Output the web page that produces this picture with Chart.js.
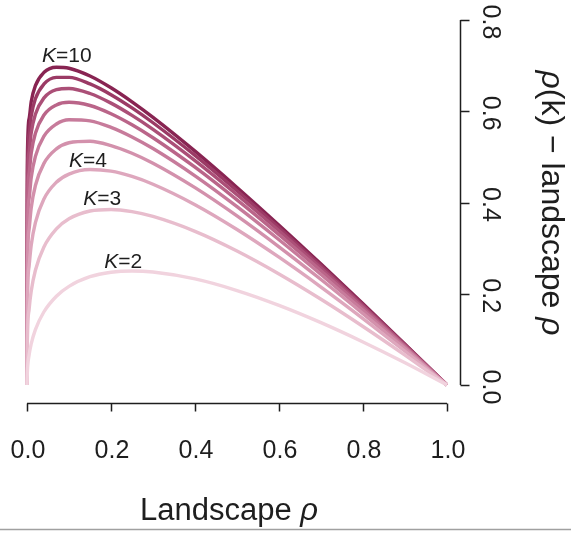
<!DOCTYPE html>
<html>
<head>
<meta charset="utf-8">
<script src="https://cdn.jsdelivr.net/npm/chart.js@4"></script>
<style>
  html, body { margin: 0; padding: 0; background: #ffffff; }
  #wrap { width: 571px; height: 534px; position: relative; }
</style>
</head>
<body>
<div id="wrap"><canvas id="c"></canvas></div>
<script>
// Landscape rho (x) grid
const rhoGrid = [0, 0.001, 0.005, 0.01, 0.02, 0.04, 0.07, 0.1, 0.15, 0.2, 0.25, 0.3, 0.4, 0.5, 0.6, 0.7, 0.8, 0.9, 1.0];
// rho(k) - landscape rho, one array per K
const k2  = [0, 0.0306, 0.0657, 0.0900, 0.1214, 0.1600, 0.1946, 0.2162, 0.2373, 0.2472, 0.2500, 0.2477, 0.2325, 0.2071, 0.1746, 0.1367, 0.0944, 0.0487, 0];
const k3  = [0, 0.0990, 0.1660, 0.2054, 0.2514, 0.3020, 0.3421, 0.3642, 0.3813, 0.3848, 0.3800, 0.3694, 0.3368, 0.2937, 0.2434, 0.1879, 0.1283, 0.0655, 0];
const k4  = [0, 0.1768, 0.2609, 0.3062, 0.3561, 0.4072, 0.4444, 0.4623, 0.4723, 0.4687, 0.4571, 0.4401, 0.3953, 0.3409, 0.2801, 0.2147, 0.1457, 0.0740, 0];
const k5  = [0, 0.2502, 0.3416, 0.3881, 0.4373, 0.4853, 0.5175, 0.5310, 0.5343, 0.5248, 0.5079, 0.4860, 0.4325, 0.3706, 0.3029, 0.2312, 0.1564, 0.0791, 0];
const k6  = [0, 0.3152, 0.4085, 0.4542, 0.5010, 0.5448, 0.5720, 0.5813, 0.5789, 0.5647, 0.5437, 0.5182, 0.4584, 0.3909, 0.3184, 0.2423, 0.1635, 0.0826, 0];
const k7  = [0, 0.3718, 0.4641, 0.5079, 0.5519, 0.5914, 0.6139, 0.6197, 0.6126, 0.5946, 0.5704, 0.5420, 0.4773, 0.4057, 0.3296, 0.2503, 0.1686, 0.0851, 0];
const k8  = [0, 0.4207, 0.5107, 0.5523, 0.5932, 0.6287, 0.6472, 0.6499, 0.6389, 0.6178, 0.5909, 0.5603, 0.4918, 0.4170, 0.3381, 0.2564, 0.1725, 0.0869, 0];
const k9  = [0, 0.4632, 0.5501, 0.5895, 0.6275, 0.6593, 0.6742, 0.6743, 0.6599, 0.6363, 0.6073, 0.5748, 0.5032, 0.4259, 0.3448, 0.2611, 0.1755, 0.0884, 0];
const k10 = [0, 0.5002, 0.5837, 0.6210, 0.6562, 0.6848, 0.6965, 0.6943, 0.6772, 0.6514, 0.6206, 0.5866, 0.5125, 0.4330, 0.3502, 0.2650, 0.1779, 0.0895, 0];

const seriesK = [2, 3, 4, 5, 6, 7, 8, 9, 10];
const seriesValues = [k2, k3, k4, k5, k6, k7, k8, k9, k10];
const seriesColors = ['#f1d3de', '#e8bdcd', '#dea7bd', '#d391ac', '#c77b9b', '#ba6589', '#ab4f77', '#9b3a65', '#882452'];

const xTicks = [0, 0.2, 0.4, 0.6, 0.8, 1.0];
const xTickLabels = ['0.0', '0.2', '0.4', '0.6', '0.8', '1.0'];
const yTicks = [0, 0.2, 0.4, 0.6, 0.8];
const yTickLabels = ['0.0', '0.2', '0.4', '0.6', '0.8'];

// curve labels: text K, and anchor in data units
const curveLabelK = ['10', '4', '3', '2'];
const curveLabelX = [0.095, 0.145, 0.179, 0.229];
const curveLabelY = [0.721, 0.491, 0.408, 0.270];

const datasets = seriesValues.map((vals, i) => ({
  label: 'K=' + seriesK[i],
  data: rhoGrid.map((r, j) => ({ x: r, y: vals[j] })),
  borderColor: seriesColors[i],
  borderWidth: 3.4,
  pointRadius: 0,
  fill: false,
  cubicInterpolationMode: 'monotone',
  clip: false
}));

const FONT = '"Liberation Sans", Arial, Helvetica, sans-serif';
const INK = '#1e1e1e';

function drawMixed(ctx, parts, size, cx, cy) {
  let total = 0;
  const widths = parts.map(p => {
    ctx.font = (p.it ? 'italic ' : '') + size + 'px ' + FONT;
    const w = ctx.measureText(p.t).width;
    total += w;
    return w;
  });
  let x = cx - total / 2;
  ctx.textAlign = 'left';
  parts.forEach((p, i) => {
    ctx.font = (p.it ? 'italic ' : '') + size + 'px ' + FONT;
    ctx.fillText(p.t, x, cy);
    x += widths[i];
  });
}

const axesPlugin = {
  id: 'rAxes',
  afterDraw(chart) {
    const ctx = chart.ctx;
    const xs = chart.scales.x, ys = chart.scales.y;
    ctx.save();
    ctx.strokeStyle = INK;
    ctx.fillStyle = INK;
    ctx.lineWidth = 1.5;

    // x axis (bottom, offset)
    const ax = 403.5;
    ctx.beginPath();
    ctx.moveTo(xs.getPixelForValue(xTicks[0]), ax);
    ctx.lineTo(xs.getPixelForValue(xTicks[xTicks.length - 1]), ax);
    xTicks.forEach(v => {
      const px = Math.round(xs.getPixelForValue(v)) + 0.5;
      ctx.moveTo(px, ax);
      ctx.lineTo(px, ax + 8);
    });
    ctx.stroke();
    ctx.font = '25px ' + FONT;
    ctx.textAlign = 'center';
    ctx.textBaseline = 'middle';
    xTicks.forEach((v, i) => {
      ctx.fillText(xTickLabels[i], xs.getPixelForValue(v) + 1, 451);
    });
    ctx.textBaseline = 'alphabetic';
    drawMixed(ctx, [{ t: 'Landscape ', it: false }, { t: 'ρ', it: true }], 31, 229, 520);

    // y axis (right)
    const ay = 460.5;
    ctx.beginPath();
    ctx.moveTo(ay, ys.getPixelForValue(yTicks[0]));
    ctx.lineTo(ay, ys.getPixelForValue(yTicks[yTicks.length - 1]));
    yTicks.forEach(v => {
      const py = Math.round(ys.getPixelForValue(v)) + 0.5;
      ctx.moveTo(ay, py);
      ctx.lineTo(ay + 9, py);
    });
    ctx.stroke();
    ctx.font = '25px ' + FONT;
    yTicks.forEach((v, i) => {
      ctx.save();
      ctx.translate(490, ys.getPixelForValue(v) + 2);
      ctx.rotate(Math.PI / 2);
      ctx.textAlign = 'center';
      ctx.textBaseline = 'middle';
      ctx.fillText(yTickLabels[i], 0, 0);
      ctx.restore();
    });
    ctx.save();
    ctx.translate(551, 203);
    ctx.rotate(Math.PI / 2);
    ctx.textBaseline = 'middle';
    drawMixed(ctx, [{ t: 'ρ', it: true }, { t: '(k) − landscape ', it: false }, { t: 'ρ', it: true }], 32, 0, 0);
    ctx.restore();

    // curve labels
    ctx.textBaseline = 'middle';
    curveLabelK.forEach((k, i) => {
      drawMixed(ctx, [{ t: 'K', it: true }, { t: '=' + k, it: false }], 21,
        xs.getPixelForValue(curveLabelX[i]), ys.getPixelForValue(curveLabelY[i]));
    });

    // thin frame line at the bottom of the picture
    ctx.strokeStyle = '#a0a0a0';
    ctx.lineWidth = 1.5;
    ctx.beginPath();
    ctx.moveTo(0, 529.5);
    ctx.lineTo(571, 529.5);
    ctx.stroke();
    ctx.restore();
  }
};

new Chart(document.getElementById('c'), {
  type: 'line',
  data: { datasets },
  options: {
    responsive: true,
    maintainAspectRatio: false,
    animation: false,
    layout: { padding: { left: 27, right: 124, top: 20, bottom: 149 } },
    plugins: { legend: { display: false }, tooltip: { enabled: false } },
    scales: {
      x: { type: 'linear', min: 0, max: 1, display: false },
      y: { type: 'linear', min: 0, max: 0.8, display: false }
    }
  },
  plugins: [axesPlugin]
});
</script>
</body>
</html>
